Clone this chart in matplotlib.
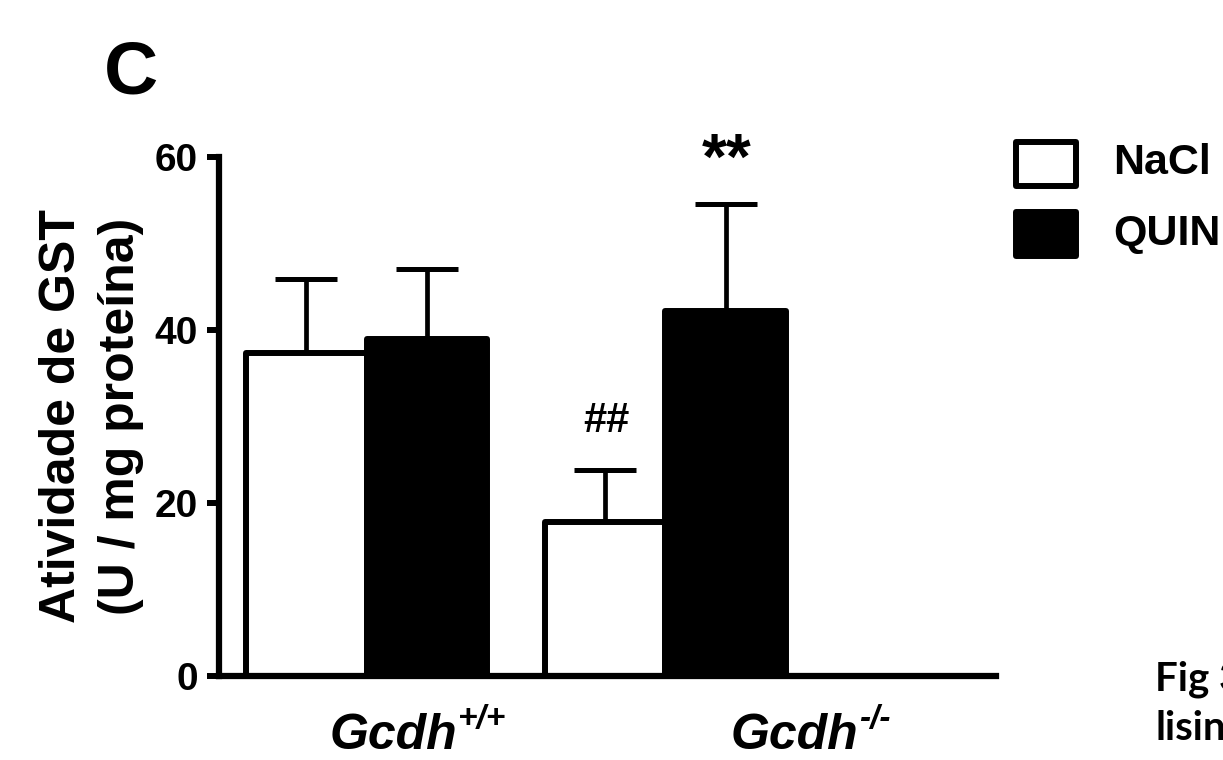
import matplotlib
matplotlib.use("Agg")
import matplotlib.pyplot as plt
from matplotlib.patches import Rectangle
import numpy as np

# ---- data ----
gene = "Gcdh"
genotypes = ["+/+", "-/-"]
series = ["NaCl", "QUIN"]
nacl_mean = [37.3, 17.8]
nacl_sem = [8.6, 6.0]
quin_mean = [38.9, 42.2]
quin_sem = [8.1, 12.4]
yticks = [0, 20, 40, 60]
ylabel = "Atividade de GST\n(U / mg proteína)"
annot_nacl = ["", "##"]
annot_quin = ["", "**"]

plt.rcParams['font.family'] = ['Liberation Sans', 'DejaVu Sans']
plt.rcParams['font.weight'] = 'bold'

W, H = 1223, 760
fig = plt.figure(figsize=(W/100, H/100), dpi=100)
ax_l, ax_r, ax_b, ax_t = 219, 996, 675.5, 157
ax = fig.add_axes([ax_l/W, 1-ax_b/H, (ax_r-ax_l)/W, (ax_b-ax_t)/H])

gc = np.array([0.0, 2.48])
means = [nacl_mean, quin_mean]
sems = [nacl_sem, quin_sem]
colors = ["white", "black"]
annots = [annot_nacl, annot_quin]
annot_style = {"##": dict(size=30, dy=27), "**": dict(size=46, dy=18)}
for i, (m, s, c, an) in enumerate(zip(means, sems, colors, annots)):
    x = gc + (i - 0.5)
    ax.errorbar(x, m, yerr=[np.zeros(len(m)), s], fmt='none', ecolor='black',
                elinewidth=3.4, capsize=22.5, capthick=3.6, zorder=1)
    bars = ax.bar(x, m, width=1.0, color=c, edgecolor='black', linewidth=4.3, zorder=2)
    for b in bars:
        b.set_joinstyle('round')
    for xi, mi, si, t in zip(x, m, s, an):
        if t:
            st = annot_style[t]
            ax.annotate(t, (xi, mi + si), xytext=(1, st["dy"]), textcoords='offset points',
                        ha='center', va='baseline', fontsize=st["size"], fontweight='bold',
                        annotation_clip=False)

ax.set_xlim((ax_l-366.5)/120.5, (ax_r-366.5)/120.5)
ax.set_ylim(0, 60)
ax.set_yticks(yticks)
ax.set_yticklabels([str(v) for v in yticks], fontsize=28, fontweight='bold')
ax.set_xticks([])
ax.tick_params(axis='y', length=8.5, width=4.3, pad=6.5, direction='out')
for sp in ['top', 'right']:
    ax.spines[sp].set_visible(False)
for sp in ['left', 'bottom']:
    ax.spines[sp].set_linewidth(4.5)

# group labels: gene name (bold italic) with genotype superscript
label_left_px = [330, 731]
for g, gt, lx in zip(gc, genotypes, label_left_px):
    t1 = ax.annotate(gene, (g, 0), xycoords=('data', 'axes fraction'),
                     xytext=(lx/W, 1-749/H), textcoords='figure fraction',
                     ha='left', va='baseline', fontsize=36, fontweight='bold',
                     fontstyle='italic')
    ax.annotate(gt, xy=(1, 0), xycoords=t1, xytext=(0.5, 22), textcoords='offset points',
                ha='left', va='baseline', fontsize=24, fontweight='bold', fontstyle='italic')

# y label, two lines
lines = ylabel.split("\n")
for ln, bx in zip(lines, [75, 134]):
    fig.text(bx/W, 1-416/H, ln, rotation=90, rotation_mode='anchor',
             ha='center', va='baseline', fontsize=36, fontweight='bold')

fig.text(131/W, 1-74/H, "C", ha='center', va='center', fontsize=54, fontweight='bold')

# legend
for k, (name, c) in enumerate(zip(series, colors)):
    yc = 163.5 + k * 70
    fig.patches.append(Rectangle((1016/W, 1-(yc+22)/H), 60/W, 44/H,
                                 transform=fig.transFigure, facecolor=c,
                                 edgecolor='black', linewidth=4.3, joinstyle='round'))
    fig.text(1113/W, 1-yc/H, name, ha='left', va='center', fontsize=31, fontweight='bold')

fig.text(1155/W, 1-690/H, "Fig 3", ha='left', va='baseline', fontsize=29,
         fontweight='bold', family=['Lato', 'DejaVu Sans'])
fig.text(1155/W, 1-740/H, "lisina", ha='left', va='baseline', fontsize=29,
         fontweight='bold', family=['Lato', 'DejaVu Sans'])

fig.savefig("out.png", dpi=100)
